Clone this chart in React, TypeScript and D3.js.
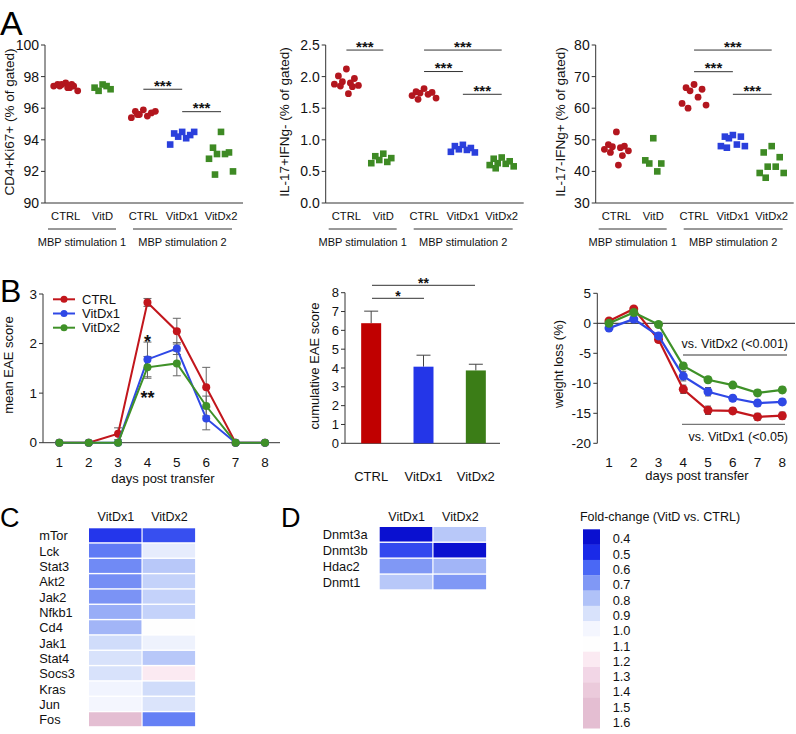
import React from "react";
import * as d3 from "d3";

const FONT = "'Liberation Sans', Arial, Helvetica, sans-serif";

// ---------- Panel A data ----------
const groupsA = ["CTRL", "VitD", "CTRL", "VitDx1", "VitDx2"];
const groupPosA = [0, 0.95, 2, 3, 4];
const groupColorA = ["red", "green", "red", "blue", "green"];
const groupShapeA = ["circle", "square", "circle", "square", "square"];
const stimLabels = ["MBP stimulation 1", "MBP stimulation 2"];

const ki67Values = [
  [97.6, 97.5, 97.4, 97.5, 97.3, 97.4, 97.1, 97.4, 97.5, 97.3],
  [97.5, 97.3, 97.2, 97.1, 97.4],
  [95.9, 95.8, 95.7, 95.6, 95.5, 95.4, 95.8, 95.6],
  [94.5, 94.4, 94.3, 94.2, 94.1, 93.7, 94.5],
  [94.5, 93.5, 93.2, 93.1, 93.1, 92.8, 92.0, 91.8],
];
const il17Values = [
  [2.12, 2.01, 1.97, 1.92, 1.9, 1.88, 1.86, 1.85, 1.84, 1.73],
  [0.78, 0.74, 0.71, 0.68, 0.65, 0.63],
  [1.81, 1.76, 1.75, 1.74, 1.72, 1.7, 1.66, 1.64],
  [0.92, 0.9, 0.87, 0.85, 0.84, 0.81, 0.8],
  [0.72, 0.7, 0.66, 0.63, 0.62, 0.6, 0.58, 0.55],
];
const ifngValues = [
  [52.5, 48.5, 48, 47.8, 47.5, 47, 46.5, 46, 45, 42],
  [50.5, 43.5, 42.5, 42.5, 40],
  [67.5, 66.5, 66, 65.5, 63.5, 61.5, 61, 60],
  [51.5, 51, 51, 50.5, 48.5, 48, 48, 47.5],
  [48, 46, 44.5, 41.5, 41.5, 39.5, 39.5, 38],
];
// significance: [fromGroup, toGroup, level in data units]
const ki67Sig = [
  [2, 3, 97.2],
  [3, 4, 95.78],
];
const il17Sig = [
  [0, 1, 2.42],
  [2, 4, 2.42],
  [2, 3, 2.08],
  [3, 4, 1.72],
];
const ifngSig = [
  [2, 4, 78.4],
  [2, 3, 71.55],
  [3, 4, 64.4],
];

// ---------- Panel B data ----------
const days = [1, 2, 3, 4, 5, 6, 7, 8];
const seriesNames = ["CTRL", "VitDx1", "VitDx2"];
const eaeCTRL = [0, 0, 0.18, 2.83, 2.25, 1.12, 0, 0];
const eaeCTRLErr = [0, 0, 0.12, 0.08, 0.26, 0.4, 0, 0];
const eaeVitDx1 = [0, 0, 0, 1.68, 1.9, 0.49, 0, 0];
const eaeVitDx1Err = [0, 0, 0, 0.35, 0.12, 0.23, 0, 0];
const eaeVitDx2 = [0, 0, 0, 1.52, 1.6, 0.74, 0, 0];
const eaeVitDx2Err = [0, 0, 0, 0.22, 0.25, 0.2, 0, 0];

const cumValues = [6.38, 4.07, 3.87];
const cumErr = [0.64, 0.61, 0.33];

const wCTRL = [0.4, 2.4, -2.7, -11.0, -14.5, -14.6, -15.6, -15.4];
const wCTRLErr = [0.4, 0.4, 0.5, 0.7, 0.7, 0.5, 0.6, 0.6];
const wVitDx1 = [-0.8, 0.7, -2.1, -8.8, -11.4, -12.5, -13.3, -13.1];
const wVitDx1Err = [0.3, 0.4, 0.5, 0.8, 0.7, 0.5, 0.5, 0.5];
const wVitDx2 = [0.0, 1.8, -0.2, -7.1, -9.4, -10.3, -11.6, -11.1];
const wVitDx2Err = [0.3, 0.3, 0.4, 0.5, 0.5, 0.4, 0.5, 0.5];

// ---------- Panel C / D data ----------
const heatCols = ["VitDx1", "VitDx2"];
const genesC = ["mTor", "Lck", "Stat3", "Akt2", "Jak2", "Nfkb1", "Cd4", "Jak1", "Stat4", "Socs3", "Kras", "Jun", "Fos"];
const foldC_VitDx1 = [0.52, 0.64, 0.67, 0.68, 0.69, 0.75, 0.77, 0.88, 0.9, 0.9, 0.99, 1.0, 1.55];
const foldC_VitDx2 = [0.56, 0.95, 0.82, 0.85, 0.85, 0.85, 1.1, 0.98, 0.82, 1.2, 0.88, 0.91, 0.65];
const genesD = ["Dnmt3a", "Dnmt3b", "Hdac2", "Dnmt1"];
const foldD_VitDx1 = [0.4, 0.55, 0.7, 0.82];
const foldD_VitDx2 = [0.82, 0.4, 0.77, 0.7];

const legendValues = [0.4, 0.5, 0.6, 0.7, 0.8, 0.9, 1.0, 1.1, 1.2, 1.3, 1.4, 1.5, 1.6];
const legendColors = [
  "#0a10d0", "#1a2ae8", "#4a68f5", "#8098f5", "#b0c2f8", "#d8e2fb",
  "#f4f6fe", "#fefefe", "#fbeaf2", "#f2d6e6", "#ebcadb", "#e4bed2", "#e4bed2",
];

const COLORS: Record<string, string> = {
  red: "#b3161e",
  blue: "#2a3fdc",
  green: "#3e8a24",
};
const LINE_COLORS = ["#c2161c", "#2f48e6", "#3f9128"];
const BAR_COLORS = ["#c00000", "#2436e8", "#3b7d17"];

const AX = "#333";

function jitter(i: number) {
  const pattern = [0, -8, 8, -4, 4, -12, 12, -6, 6, 2];
  return pattern[i % pattern.length];
}

function RotLabel({ x, y, text, size = 13.5 }: { x: number; y: number; text: string; size?: number }) {
  return (
    <text transform={`translate(${x},${y}) rotate(-90)`} textAnchor="middle" dy="0.35em" fontSize={size} fill="#111">
      {text}
    </text>
  );
}

function ScatterPanel({
  axisX, domain, ticks, fmt, values, sig, ylabel, ylabelX,
}: {
  axisX: number; domain: [number, number]; ticks: number[]; fmt: (v: number) => string;
  values: number[][]; sig: number[][]; ylabel: string; ylabelX: number;
}) {
  const y = d3.scaleLinear().domain(domain).range([203, 45]);
  const x = d3.scaleLinear().domain([0, 4]).range([axisX + 20.7, axisX + 176]);
  const axisEnd = axisX + 198;
  return (
    <g>
      <line x1={axisX} x2={axisX} y1={y(domain[1])} y2={y(domain[0])} stroke={AX} />
      <line x1={axisX} x2={axisEnd} y1={y(domain[0])} y2={y(domain[0])} stroke={AX} />
      {ticks.map((t) => (
        <g key={t}>
          <line x1={axisX - 4} x2={axisX} y1={y(t)} y2={y(t)} stroke={AX} />
          <text x={axisX - 6} y={y(t)} dy="0.35em" textAnchor="end" fontSize={14} fill="#111">
            {fmt(t)}
          </text>
        </g>
      ))}
      {values.map((vals, gi) =>
        vals.map((v, i) => {
          const cx = x(groupPosA[gi]) + jitter(i);
          const cy = y(v);
          const col = COLORS[groupColorA[gi]];
          return groupShapeA[gi] === "circle" ? (
            <circle key={`${gi}-${i}`} cx={cx} cy={cy} r={3.4} fill={col} />
          ) : (
            <rect key={`${gi}-${i}`} x={cx - 3.3} y={cy - 3.3} width={6.6} height={6.6} fill={col} />
          );
        })
      )}
      {groupsA.map((g, gi) => (
        <text key={gi} x={x(groupPosA[gi])} y={219.5} textAnchor="middle" fontSize={11.2} fill="#111">
          {g}
        </text>
      ))}
      <line x1={axisX + 3} x2={axisX + 71} y1={229} y2={229} stroke={AX} />
      <line x1={axisX + 88} x2={axisX + 187} y1={229} y2={229} stroke={AX} />
      <text x={axisX + 37} y={246} textAnchor="middle" fontSize={11} fill="#111">{stimLabels[0]}</text>
      <text x={axisX + 137.5} y={246} textAnchor="middle" fontSize={11} fill="#111">{stimLabels[1]}</text>
      {sig.map(([a, b, lv], i) => (
        <g key={i}>
          <line x1={x(groupPosA[a])} x2={x(groupPosA[b])} y1={y(lv)} y2={y(lv)} stroke={AX} />
          <text x={(x(groupPosA[a]) + x(groupPosA[b])) / 2} y={y(lv) + 1.5} textAnchor="middle" fontSize={15} fontWeight="bold" fill="#111">
            ***
          </text>
        </g>
      ))}
      <RotLabel x={ylabelX} y={122} text={ylabel} />
    </g>
  );
}

function ErrorBar({ x, y1, y2, cap = 4, color = "#555" }: { x: number; y1: number; y2: number; cap?: number; color?: string }) {
  return (
    <g stroke={color} strokeWidth={1}>
      <line x1={x} x2={x} y1={y1} y2={y2} />
      <line x1={x - cap} x2={x + cap} y1={y1} y2={y1} />
      <line x1={x - cap} x2={x + cap} y1={y2} y2={y2} />
    </g>
  );
}

function EaePanel() {
  const x = d3.scaleLinear().domain([1, 8]).range([59.3, 265]);
  const y = d3.scaleLinear().domain([0, 3]).range([442.7, 294]);
  const series = [
    { v: eaeCTRL, e: eaeCTRLErr },
    { v: eaeVitDx1, e: eaeVitDx1Err },
    { v: eaeVitDx2, e: eaeVitDx2Err },
  ];
  const line = d3.line<number>().x((_, i) => x(days[i])).y((d) => y(d));
  return (
    <g>
      <line x1={43} x2={43} y1={y(3)} y2={y(0)} stroke={AX} />
      <line x1={43} x2={280} y1={y(0)} y2={y(0)} stroke={AX} />
      {[0, 1, 2, 3].map((t) => (
        <g key={t}>
          <line x1={39} x2={43} y1={y(t)} y2={y(t)} stroke={AX} />
          <text x={37} y={y(t)} dy="0.35em" textAnchor="end" fontSize={13.5} fill="#111">{t}</text>
        </g>
      ))}
      {days.map((d) => (
        <text key={d} x={x(d)} y={466.5} textAnchor="middle" fontSize={13.5} fill="#111">{d}</text>
      ))}
      <text x={163} y={483} textAnchor="middle" fontSize={13} fill="#111">days post transfer</text>
      <RotLabel x={8} y={365} text="mean EAE score" size={13} />
      {series.map((s, si) =>
        s.v.map((v, i) =>
          s.e[i] > 0 ? <ErrorBar key={`${si}-${i}`} x={x(days[i])} y1={y(v + s.e[i])} y2={y(v - s.e[i])} cap={4} color="#666" /> : null
        )
      )}
      {series.map((s, si) => (
        <g key={si}>
          <path d={line(s.v) || ""} fill="none" stroke={LINE_COLORS[si]} strokeWidth={2} />
          {s.v.map((v, i) => (
            <circle key={i} cx={x(days[i])} cy={y(v)} r={4} fill={LINE_COLORS[si]} />
          ))}
        </g>
      ))}
      <text x={x(4)} y={y(2.17)} dy="0.7em" textAnchor="middle" fontSize={18} fontWeight="bold" fill="#111">*</text>
      <text x={x(4)} y={y(1.03)} dy="0.7em" textAnchor="middle" fontSize={18} fontWeight="bold" fill="#111">**</text>
      {seriesNames.map((n, i) => (
        <g key={n}>
          <line x1={53} x2={75} y1={299.3 + i * 14.2} y2={299.3 + i * 14.2} stroke={LINE_COLORS[i]} strokeWidth={2} />
          <circle cx={64} cy={299.3 + i * 14.2} r={3.5} fill={LINE_COLORS[i]} />
          <text x={82} y={299.3 + i * 14.2} dy="0.35em" fontSize={13} fill="#111">{n}</text>
        </g>
      ))}
    </g>
  );
}

function CumPanel() {
  const y = d3.scaleLinear().domain([0, 8]).range([443.3, 292.7]);
  const x = d3.scalePoint<string>().domain(seriesNames).range([345, 502]).padding(0.5);
  const bw = 20;
  return (
    <g>
      <line x1={345} x2={345} y1={y(8)} y2={y(0)} stroke={AX} />
      <line x1={345} x2={500} y1={y(0)} y2={y(0)} stroke={AX} />
      {d3.range(0, 9).map((t) => (
        <g key={t}>
          <line x1={341} x2={345} y1={y(t)} y2={y(t)} stroke={AX} />
          <text x={339} y={y(t)} dy="0.35em" textAnchor="end" fontSize={13} fill="#111">{t}</text>
        </g>
      ))}
      {seriesNames.map((n, i) => {
        const cx = x(n) as number;
        return (
          <g key={n}>
            <line x1={cx} x2={cx} y1={y(cumValues[i])} y2={y(cumValues[i] + cumErr[i])} stroke="#444" />
            <line x1={cx - 7} x2={cx + 7} y1={y(cumValues[i] + cumErr[i])} y2={y(cumValues[i] + cumErr[i])} stroke="#444" />
            <rect x={cx - bw / 2} y={y(cumValues[i])} width={bw} height={y(0) - y(cumValues[i])} fill={BAR_COLORS[i]} />
            <text x={cx} y={480.5} textAnchor="middle" fontSize={13} fill="#111">{n}</text>
          </g>
        );
      })}
      <line x1={372} x2={424} y1={298.3} y2={298.3} stroke={AX} />
      <text x={398} y={300.5} textAnchor="middle" fontSize={14} fontWeight="bold" fill="#111">*</text>
      <line x1={372} x2={475} y1={285.3} y2={285.3} stroke={AX} />
      <text x={423.5} y={287.5} textAnchor="middle" fontSize={14} fontWeight="bold" fill="#111">**</text>
      <RotLabel x={314} y={366} text="cumulative EAE score" size={13} />
    </g>
  );
}

function WeightPanel() {
  const x = d3.scaleLinear().domain([1, 8]).range([609, 782.3]);
  const y = d3.scaleLinear().domain([-20, 5]).range([443.3, 293.3]);
  const series = [
    { v: wCTRL, e: wCTRLErr },
    { v: wVitDx1, e: wVitDx1Err },
    { v: wVitDx2, e: wVitDx2Err },
  ];
  const line = d3.line<number>().x((_, i) => x(days[i])).y((d) => y(d));
  return (
    <g>
      <line x1={597.3} x2={597.3} y1={y(5)} y2={y(-20)} stroke={AX} />
      <line x1={597.3} x2={795} y1={y(0)} y2={y(0)} stroke="#222" />
      {[5, 0, -5, -10, -15, -20].map((t) => (
        <g key={t}>
          <line x1={593.3} x2={597.3} y1={y(t)} y2={y(t)} stroke={AX} />
          <text x={591} y={y(t)} dy="0.35em" textAnchor="end" fontSize={13.5} fill="#111">{t}</text>
        </g>
      ))}
      {days.map((d) => (
        <text key={d} x={x(d)} y={466.5} textAnchor="middle" fontSize={13.5} fill="#111">{d}</text>
      ))}
      <text x={697} y={480} textAnchor="middle" fontSize={13} fill="#111">days post transfer</text>
      <RotLabel x={558} y={364} text="weight loss (%)" size={13} />
      {series.map((s, si) => (
        <g key={si}>
          {s.v.map((v, i) => (
            <ErrorBar key={i} x={x(days[i])} y1={y(v + s.e[i])} y2={y(v - s.e[i])} cap={3} color="#555" />
          ))}
          <path d={line(s.v) || ""} fill="none" stroke={LINE_COLORS[si]} strokeWidth={2.2} />
          {s.v.map((v, i) => (
            <circle key={i} cx={x(days[i])} cy={y(v)} r={4.5} fill={LINE_COLORS[si]} />
          ))}
        </g>
      ))}
      <text x={788} y={348} textAnchor="end" fontSize={12.5} fill="#111">vs. VitDx2 (&lt;0.001)</text>
      <line x1={683} x2={787} y1={355} y2={355} stroke="#777" strokeWidth={1.3} />
      <line x1={682} x2={785} y1={424.3} y2={424.3} stroke="#777" strokeWidth={1.3} />
      <text x={788} y={441} textAnchor="end" fontSize={12.5} fill="#111">vs. VitDx1 (&lt;0.05)</text>
    </g>
  );
}

const colorScale = d3.scaleLinear<string>().domain(legendValues).range(legendColors).clamp(true);

function Heatmap({
  genes, v1, v2, x0, x1, y0, y1, labelX, headerY,
}: {
  genes: string[]; v1: number[]; v2: number[]; x0: number; x1: number; y0: number; y1: number; labelX: number; headerY: number;
}) {
  const xb = d3.scaleBand<string>().domain(heatCols).range([x0, x1]);
  const yb = d3.scaleBand<string>().domain(genes).range([y0, y1]);
  const vals = [v1, v2];
  return (
    <g>
      {heatCols.map((c) => (
        <text key={c} x={(xb(c) as number) + xb.bandwidth() / 2} y={headerY} textAnchor="middle" fontSize={12.5} fill="#111">{c}</text>
      ))}
      {genes.map((g, gi) => (
        <g key={g}>
          <text x={labelX} y={(yb(g) as number) + yb.bandwidth() / 2} dy="0.35em" fontSize={12.8} fill="#111">{g}</text>
          {heatCols.map((c, ci) => (
            <rect key={c} x={xb(c) as number} y={yb(g) as number} width={xb.bandwidth() - 1.2} height={yb.bandwidth() - 1.4} fill={colorScale(vals[ci][gi])} />
          ))}
        </g>
      ))}
    </g>
  );
}

function Legend() {
  const top = 529.3;
  const h = 15.3;
  return (
    <g>
      <text x={660} y={521} textAnchor="middle" fontSize={12.5} fill="#111">Fold-change (VitD vs. CTRL)</text>
      {legendValues.map((v, i) => (
        <g key={v}>
          <rect x={583} y={top + i * h} width={17} height={h + 0.3} fill={legendColors[i]} />
          <text x={612.7} y={top + i * h + h / 2 + 2} dy="0.35em" fontSize={12.8} fill="#111">{v.toFixed(1)}</text>
        </g>
      ))}
    </g>
  );
}

export default function App() {
  return (
    <svg width={796} height={734} style={{ position: "absolute", left: 0, top: 0, background: "#fff" }} fontFamily={FONT}>
      <rect width={796} height={734} fill="#fff" />
      <text x={0} y={35} fontSize={34} fill="#000">A</text>
      <text x={0} y={302} fontSize={32} fill="#000">B</text>
      <text x={0} y={527} fontSize={27} fill="#000">C</text>
      <text x={281} y={527} fontSize={27} fill="#000">D</text>

      <ScatterPanel axisX={45} domain={[90, 100]} ticks={[90, 92, 94, 96, 98, 100]} fmt={(v) => String(v)}
        values={ki67Values} sig={ki67Sig} ylabel="CD4+Ki67+ (% of gated)" ylabelX={9} />
      <ScatterPanel axisX={325.7} domain={[0, 2.5]} ticks={[0, 0.5, 1, 1.5, 2, 2.5]} fmt={d3.format(".1f")}
        values={il17Values} sig={il17Sig} ylabel="IL-17+IFNg- (% of gated)" ylabelX={284} />
      <ScatterPanel axisX={595.7} domain={[30, 80]} ticks={[30, 40, 50, 60, 70, 80]} fmt={(v) => String(v)}
        values={ifngValues} sig={ifngSig} ylabel="IL-17-IFNg+ (% of gated)" ylabelX={560} />

      <EaePanel />
      <CumPanel />
      <WeightPanel />

      <Heatmap genes={genesC} v1={foldC_VitDx1} v2={foldC_VitDx2} x0={89} x1={196.3} y0={528.3} y1={727.6} labelX={39.3} headerY={521} />
      <Heatmap genes={genesD} v1={foldD_VitDx1} v2={foldD_VitDx2} x0={379.7} x1={487.3} y0={527} y1={590.7} labelX={322.7} headerY={521} />
      <Legend />
    </svg>
  );
}
